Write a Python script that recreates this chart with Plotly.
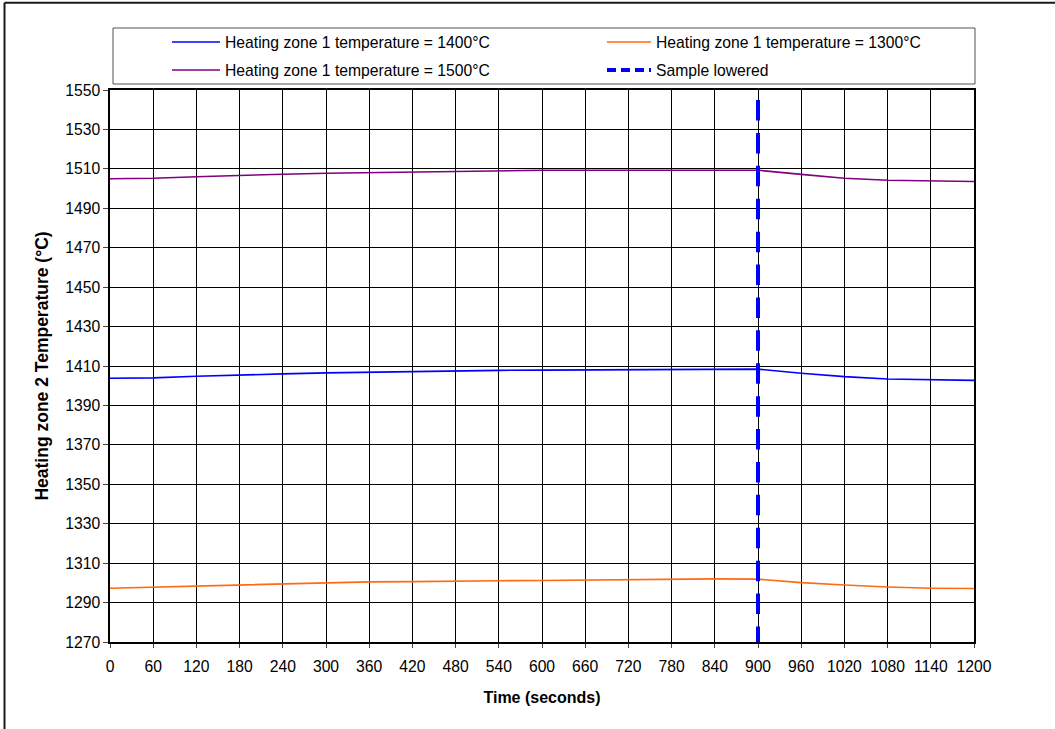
import plotly.graph_objects as go

# Time axis (seconds) and zone-2 temperatures for each zone-1 setpoint
time_s = [0, 60, 120, 180, 240, 300, 360, 420, 480, 540, 600, 660,
          720, 780, 840, 900, 960, 1020, 1080, 1140, 1200]
temp_1400 = [1403.8, 1404.0, 1404.8, 1405.5, 1406.0, 1406.5, 1406.9, 1407.3,
             1407.6, 1407.8, 1407.9, 1408.0, 1408.1, 1408.2, 1408.3, 1408.4,
             1406.3, 1404.6, 1403.4, 1403.0, 1402.7]
temp_1300 = [1297.3, 1297.8, 1298.6, 1299.1, 1299.6, 1300.1, 1300.5, 1300.6,
             1301.0, 1301.1, 1301.2, 1301.4, 1301.6, 1301.9, 1302.0, 1301.9,
             1300.1, 1298.9, 1297.9, 1297.3, 1297.1]
temp_1500 = [1505.0, 1505.2, 1506.0, 1506.8, 1507.3, 1507.8, 1508.1, 1508.5,
             1509.0, 1509.3, 1509.3, 1509.3, 1509.3, 1509.3, 1509.0, 1509.3,
             1507.2, 1505.2, 1504.2, 1503.8, 1503.6]

sample_time = 900
x_ticks = list(range(0, 1201, 60))
y_ticks = list(range(1270, 1551, 20))

series_names = ["Heating zone 1 temperature = 1400°C",
                "Heating zone 1 temperature = 1300°C",
                "Heating zone 1 temperature = 1500°C",
                "Sample lowered"]
series_colors = ["#0000FF", "#FF6A10", "#800080", "#0000FF"]

W, H = 1055, 729
PL, PT, PR, PB = 110, 90, 974, 642   # plot area in pixels
FONT = "Liberation Sans, Arial, sans-serif"
FS = 15.7


def px_x(p):
    return (p - PL) / (PR - PL)


def px_y(p):
    return (PB - p) / (PB - PT)


fig = go.Figure()
for vals, name, col in zip([temp_1400, temp_1300, temp_1500],
                           series_names[:3], series_colors[:3]):
    fig.add_trace(go.Scatter(x=time_s, y=vals, mode="lines", name=name,
                             line=dict(color=col, width=1.6),
                             showlegend=False))

# Vertical dashed marker; starts above the range so the dash phase lines up
fig.add_trace(go.Scatter(x=[sample_time, sample_time], y=[1561.6, 1270],
                         mode="lines", name=series_names[3], showlegend=False,
                         line=dict(color=series_colors[3], width=4,
                                   dash="20.5px,12.4px")))

shapes = []
annotations = []

# Legend box
shapes.append(dict(type="rect", xref="paper", yref="paper",
                   x0=px_x(113), x1=px_x(975), y0=px_y(84), y1=px_y(28),
                   line=dict(color="#505050", width=1), fillcolor="white",
                   layer="above"))
legend_slots = [(172, 220, 224, 42), (607, 651, 655, 42),
                (172, 220, 224, 70), (607, 651, 655, 70)]
legend_dash = [None, None, None, "9px,5px"]
legend_width = [1.6, 1.6, 1.6, 4]
for (sx0, sx1, tx, ty), name, col, dsh, lw in zip(
        legend_slots, series_names, series_colors, legend_dash, legend_width):
    line = dict(color=col, width=lw)
    if dsh:
        line["dash"] = dsh
    shapes.append(dict(type="line", xref="paper", yref="paper",
                       x0=px_x(sx0), x1=px_x(sx1), y0=px_y(ty), y1=px_y(ty),
                       line=line, layer="above"))
    annotations.append(dict(text=name, xref="paper", yref="paper",
                            x=px_x(tx - 1), y=px_y(ty), xanchor="left",
                            yanchor="middle", showarrow=False,
                            font=dict(family=FONT, size=FS, color="black")))

# Outer chart border (left and top edges)
shapes.append(dict(type="line", xref="paper", yref="paper",
                   x0=px_x(4.5), x1=px_x(4.5), y0=px_y(740), y1=px_y(2.7),
                   line=dict(color="#1a1a1a", width=2)))
shapes.append(dict(type="line", xref="paper", yref="paper",
                   x0=px_x(4.5), x1=px_x(1070), y0=px_y(2.7), y1=px_y(2.7),
                   line=dict(color="#1a1a1a", width=2)))

axis_common = dict(showgrid=True, gridcolor="black", gridwidth=1.3,
                   showline=True, linecolor="black", linewidth=1.5,
                   mirror=True, ticks="outside", tickcolor="#444",
                   tickfont=dict(family=FONT, size=FS, color="black"),
                   zeroline=False)

fig.update_layout(
    width=W, height=H,
    margin=dict(l=PL, t=PT, r=W - PR, b=H - PB, autoexpand=False),
    paper_bgcolor="white", plot_bgcolor="white",
    showlegend=False,
    shapes=shapes, annotations=annotations,
    xaxis=dict(range=[0, 1200], tickvals=x_ticks, ticklen=4,
               ticklabelstandoff=5,
               title=dict(text="<b>Time (seconds)</b>", standoff=18,
                          font=dict(family=FONT, size=16, color="black")),
               **axis_common),
    yaxis=dict(range=[1270, 1550], tickvals=y_ticks, ticklen=5,
               title=dict(text="<b>Heating zone 2 Temperature (°C)</b>",
                          standoff=12,
                          font=dict(family=FONT, size=17.5, color="black")),
               **axis_common),
)

fig.write_html("out.html")
